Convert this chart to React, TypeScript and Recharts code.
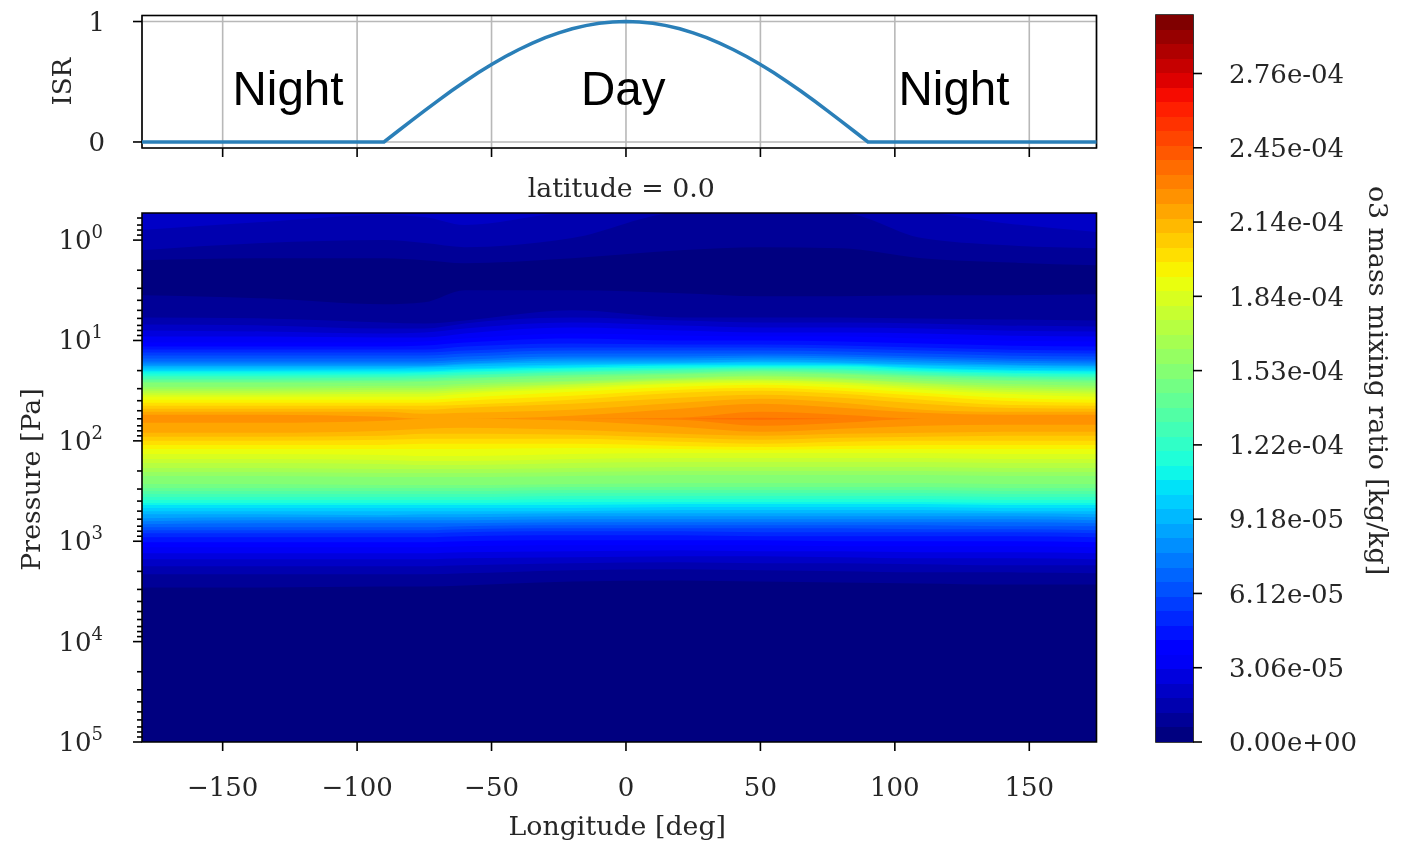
import React from 'react';
import {
  AreaChart,
  Area,
  BarChart,
  Bar,
  LineChart,
  Line,
  XAxis,
  YAxis,
  CartesianGrid,
  ReferenceArea,
  ReferenceDot,
} from 'recharts';

const serif = 'DejaVu Serif';
const ink = '#262626';

// top panel: incoming stellar radiation against longitude
const isrLongitudes = [
  -180, -90, -85, -80, -75, -70, -65, -60, -55, -50, -45, -40, -35, -30, -25, -20, -15, -10, -5, 0, 5, 10, 15, 20, 25,
  30, 35, 40, 45, 50, 55, 60, 65, 70, 75, 80, 85, 90, 175,
];
const isrValues = [
  0, 0, 0.087, 0.174, 0.259, 0.342, 0.423, 0.5, 0.574, 0.643, 0.707, 0.766, 0.819, 0.866, 0.906, 0.94, 0.966, 0.985,
  0.996, 1, 0.996, 0.985, 0.966, 0.94, 0.906, 0.866, 0.819, 0.766, 0.707, 0.643, 0.574, 0.5, 0.423, 0.342, 0.259,
  0.174, 0.087, 0, 0,
];
const longitudeTicks = [-150, -100, -50, 0, 50, 100, 150];
const isrTicks = [0, 1];
const dayNightLabels = ['Night', 'Day', 'Night'];
const dayNightLongitudes = [-125.7, -1, 122];

// bottom panel: log10(pressure) of each contour edge, read at these longitudes
const gridLongitudes = [-180, -135, -90, -75, -60, -20, 20, 50, 80, 110, 140, 175];
const pressureTop = -0.27;
const pressureBottom = 5;
const majorPressureTicks = [0, 1, 2, 3, 4, 5];
const minorTickOffsets = [0.3, 0.48, 0.6, 0.7, 0.78, 0.85, 0.9, 0.95];

// upper atmosphere: contours 1 to 3 hang from the top of the plot
const highEdges = [
  [0.2, 0.18, 0.18, 0.2, 0.23, 0.18, 0.1, 0.07, 0.08, 0.18, 0.22, 0.25],
  [0.1, 0.03, 0, 0.03, 0.07, -0.02, -0.27, -0.27, -0.27, -0.02, 0.05, 0.08],
  [-0.1, -0.18, -0.25, -0.23, -0.15, -0.27, -0.27, -0.27, -0.27, -0.27, -0.17, -0.08],
];

// ozone layer: upper edge of contours 1 to 39
const upperEdges = [
  [0.55, 0.58, 0.64, 0.62, 0.5, 0.5, 0.53, 0.56, 0.56, 0.55, 0.55, 0.54],
  [0.77, 0.78, 0.82, 0.83, 0.8, 0.7, 0.77, 0.77, 0.77, 0.78, 0.79, 0.8],
  [0.84, 0.85, 0.88, 0.88, 0.83, 0.77, 0.8, 0.82, 0.82, 0.83, 0.85, 0.86],
  [0.9, 0.91, 0.93, 0.92, 0.88, 0.82, 0.85, 0.87, 0.87, 0.88, 0.9, 0.91],
  [0.96, 0.96, 0.97, 0.97, 0.93, 0.87, 0.9, 0.92, 0.92, 0.93, 0.95, 0.96],
  [1.02, 1.02, 1.02, 1.01, 0.98, 0.93, 0.95, 0.96, 0.96, 0.98, 1.0, 1.01],
  [1.06, 1.06, 1.06, 1.05, 1.02, 0.98, 1.0, 1.0, 1.01, 1.03, 1.05, 1.06],
  [1.09, 1.09, 1.09, 1.09, 1.06, 1.03, 1.04, 1.04, 1.05, 1.07, 1.09, 1.1],
  [1.12, 1.12, 1.12, 1.12, 1.1, 1.07, 1.07, 1.07, 1.08, 1.1, 1.12, 1.13],
  [1.15, 1.15, 1.15, 1.15, 1.13, 1.1, 1.1, 1.1, 1.11, 1.13, 1.15, 1.16],
  [1.18, 1.18, 1.18, 1.18, 1.16, 1.13, 1.13, 1.13, 1.14, 1.16, 1.18, 1.19],
  [1.21, 1.21, 1.21, 1.21, 1.19, 1.16, 1.16, 1.15, 1.16, 1.18, 1.2, 1.21],
  [1.23, 1.23, 1.23, 1.23, 1.21, 1.18, 1.18, 1.17, 1.18, 1.2, 1.22, 1.23],
  [1.25, 1.25, 1.25, 1.25, 1.23, 1.2, 1.2, 1.19, 1.2, 1.22, 1.24, 1.25],
  [1.26, 1.26, 1.26, 1.26, 1.24, 1.22, 1.22, 1.21, 1.22, 1.24, 1.25, 1.26],
  [1.28, 1.28, 1.28, 1.27, 1.26, 1.24, 1.23, 1.22, 1.23, 1.25, 1.27, 1.28],
  [1.3, 1.3, 1.29, 1.29, 1.28, 1.25, 1.24, 1.24, 1.24, 1.27, 1.29, 1.3],
  [1.31, 1.31, 1.31, 1.31, 1.29, 1.27, 1.25, 1.25, 1.25, 1.28, 1.3, 1.31],
  [1.33, 1.33, 1.33, 1.32, 1.31, 1.28, 1.27, 1.26, 1.26, 1.3, 1.32, 1.33],
  [1.35, 1.35, 1.34, 1.34, 1.32, 1.3, 1.28, 1.27, 1.28, 1.31, 1.33, 1.34],
  [1.36, 1.36, 1.36, 1.35, 1.34, 1.31, 1.29, 1.28, 1.29, 1.32, 1.35, 1.36],
  [1.38, 1.38, 1.37, 1.37, 1.35, 1.32, 1.3, 1.29, 1.3, 1.34, 1.36, 1.37],
  [1.39, 1.39, 1.39, 1.38, 1.37, 1.34, 1.32, 1.3, 1.32, 1.35, 1.37, 1.39],
  [1.41, 1.41, 1.4, 1.4, 1.38, 1.35, 1.33, 1.31, 1.33, 1.36, 1.39, 1.4],
  [1.42, 1.42, 1.42, 1.41, 1.4, 1.37, 1.34, 1.33, 1.34, 1.38, 1.4, 1.42],
  [1.46, 1.46, 1.45, 1.45, 1.43, 1.4, 1.37, 1.35, 1.37, 1.4, 1.43, 1.45],
  [1.48, 1.48, 1.47, 1.47, 1.45, 1.41, 1.38, 1.36, 1.38, 1.42, 1.45, 1.47],
  [1.5, 1.5, 1.49, 1.49, 1.47, 1.43, 1.39, 1.38, 1.39, 1.43, 1.47, 1.49],
  [1.52, 1.52, 1.51, 1.51, 1.49, 1.44, 1.4, 1.39, 1.41, 1.45, 1.49, 1.51],
  [1.54, 1.54, 1.53, 1.53, 1.51, 1.46, 1.42, 1.4, 1.42, 1.47, 1.51, 1.53],
  [1.56, 1.56, 1.56, 1.56, 1.53, 1.48, 1.43, 1.42, 1.44, 1.49, 1.53, 1.56],
  [1.59, 1.59, 1.59, 1.59, 1.57, 1.51, 1.46, 1.44, 1.47, 1.52, 1.57, 1.59],
  [1.62, 1.62, 1.62, 1.62, 1.6, 1.55, 1.49, 1.47, 1.5, 1.55, 1.6, 1.62],
  [1.65, 1.65, 1.65, 1.65, 1.64, 1.59, 1.52, 1.5, 1.53, 1.59, 1.64, 1.65],
  [1.68, 1.68, 1.68, 1.69, 1.67, 1.63, 1.57, 1.54, 1.57, 1.63, 1.67, 1.68],
  [1.71, 1.71, 1.71, 1.73, 1.72, 1.69, 1.62, 1.58, 1.62, 1.69, 1.71, 1.71],
  [1.74, 1.74, 1.76, 1.78, 1.78, 1.75, 1.68, 1.63, 1.67, 1.72, 1.74, 1.74],
  [1.78, 1.78, 1.78, 1.78, 1.78, 1.78, 1.77, 1.71, 1.74, 1.78, 1.78, 1.78],
  [1.78, 1.78, 1.78, 1.78, 1.78, 1.78, 1.78, 1.77, 1.78, 1.78, 1.78, 1.78],
];

// ozone layer: lower edge of contours 1 to 39
const lowerEdges = [
  [3.46, 3.46, 3.45, 3.45, 3.44, 3.4, 3.39, 3.4, 3.41, 3.42, 3.43, 3.43],
  [3.33, 3.33, 3.33, 3.33, 3.32, 3.29, 3.28, 3.29, 3.3, 3.31, 3.31, 3.32],
  [3.25, 3.25, 3.25, 3.25, 3.24, 3.22, 3.21, 3.22, 3.22, 3.23, 3.24, 3.24],
  [3.18, 3.18, 3.18, 3.18, 3.17, 3.16, 3.15, 3.15, 3.16, 3.17, 3.17, 3.18],
  [3.12, 3.12, 3.12, 3.12, 3.11, 3.1, 3.09, 3.1, 3.1, 3.11, 3.11, 3.12],
  [3.06, 3.06, 3.06, 3.06, 3.05, 3.04, 3.04, 3.04, 3.05, 3.05, 3.05, 3.06],
  [3.01, 3.01, 3.01, 3.01, 3.0, 2.99, 2.99, 2.99, 3.0, 3.0, 3.0, 3.01],
  [2.96, 2.96, 2.96, 2.96, 2.95, 2.94, 2.94, 2.95, 2.95, 2.95, 2.95, 2.96],
  [2.92, 2.92, 2.92, 2.92, 2.91, 2.9, 2.9, 2.91, 2.91, 2.91, 2.91, 2.92],
  [2.89, 2.89, 2.89, 2.89, 2.88, 2.87, 2.87, 2.87, 2.87, 2.88, 2.88, 2.89],
  [2.86, 2.86, 2.86, 2.86, 2.85, 2.84, 2.84, 2.84, 2.84, 2.84, 2.85, 2.85],
  [2.83, 2.82, 2.82, 2.82, 2.82, 2.81, 2.81, 2.81, 2.81, 2.81, 2.81, 2.82],
  [2.8, 2.79, 2.79, 2.79, 2.79, 2.78, 2.78, 2.78, 2.78, 2.78, 2.78, 2.79],
  [2.77, 2.76, 2.76, 2.76, 2.76, 2.75, 2.75, 2.75, 2.75, 2.75, 2.75, 2.76],
  [2.73, 2.73, 2.74, 2.73, 2.73, 2.72, 2.72, 2.72, 2.72, 2.72, 2.72, 2.73],
  [2.7, 2.7, 2.7, 2.7, 2.7, 2.7, 2.69, 2.69, 2.69, 2.69, 2.7, 2.7],
  [2.67, 2.67, 2.67, 2.67, 2.67, 2.67, 2.66, 2.66, 2.66, 2.66, 2.67, 2.67],
  [2.64, 2.64, 2.64, 2.64, 2.64, 2.64, 2.63, 2.63, 2.63, 2.63, 2.64, 2.64],
  [2.62, 2.62, 2.62, 2.62, 2.62, 2.61, 2.61, 2.61, 2.61, 2.61, 2.62, 2.62],
  [2.59, 2.59, 2.59, 2.59, 2.59, 2.58, 2.58, 2.58, 2.58, 2.58, 2.59, 2.59],
  [2.56, 2.56, 2.56, 2.56, 2.56, 2.55, 2.55, 2.55, 2.55, 2.55, 2.56, 2.56],
  [2.53, 2.53, 2.53, 2.53, 2.53, 2.52, 2.52, 2.52, 2.52, 2.52, 2.53, 2.53],
  [2.5, 2.5, 2.5, 2.5, 2.5, 2.49, 2.49, 2.49, 2.49, 2.49, 2.5, 2.5],
  [2.47, 2.47, 2.47, 2.47, 2.47, 2.46, 2.46, 2.46, 2.46, 2.46, 2.47, 2.47],
  [2.43, 2.43, 2.44, 2.44, 2.44, 2.43, 2.42, 2.42, 2.42, 2.42, 2.43, 2.43],
  [2.35, 2.35, 2.36, 2.36, 2.36, 2.35, 2.34, 2.34, 2.34, 2.34, 2.35, 2.35],
  [2.31, 2.31, 2.32, 2.32, 2.32, 2.31, 2.3, 2.3, 2.3, 2.3, 2.31, 2.31],
  [2.27, 2.27, 2.28, 2.28, 2.28, 2.27, 2.26, 2.26, 2.26, 2.26, 2.27, 2.27],
  [2.22, 2.22, 2.23, 2.24, 2.24, 2.22, 2.21, 2.21, 2.21, 2.21, 2.22, 2.22],
  [2.18, 2.18, 2.19, 2.2, 2.2, 2.18, 2.17, 2.17, 2.17, 2.17, 2.18, 2.18],
  [2.13, 2.13, 2.14, 2.15, 2.15, 2.13, 2.12, 2.12, 2.12, 2.12, 2.13, 2.13],
  [2.08, 2.08, 2.08, 2.08, 2.08, 2.07, 2.08, 2.09, 2.08, 2.08, 2.08, 2.08],
  [2.04, 2.04, 2.04, 2.03, 2.03, 2.03, 2.05, 2.06, 2.05, 2.04, 2.04, 2.04],
  [2.0, 2.0, 1.99, 1.98, 1.98, 1.98, 2.01, 2.03, 2.01, 2.0, 2.0, 2.0],
  [1.96, 1.96, 1.95, 1.93, 1.93, 1.94, 1.97, 1.99, 1.97, 1.96, 1.95, 1.95],
  [1.92, 1.92, 1.9, 1.88, 1.87, 1.89, 1.93, 1.95, 1.93, 1.92, 1.91, 1.91],
  [1.82, 1.82, 1.8, 1.78, 1.78, 1.8, 1.86, 1.91, 1.88, 1.85, 1.84, 1.84],
  [1.78, 1.78, 1.78, 1.78, 1.78, 1.78, 1.79, 1.85, 1.82, 1.78, 1.78, 1.78],
  [1.78, 1.78, 1.78, 1.78, 1.78, 1.78, 1.78, 1.79, 1.78, 1.78, 1.78, 1.78],
];

// colour bar, in units of 1e-6 kg/kg
const contourLevels = [
  0, 5.99, 11.98, 17.97, 23.96, 29.95, 35.94, 41.93, 47.92, 53.91, 59.9, 65.89, 71.88, 77.87, 83.86, 89.85, 95.84,
  101.83, 107.82, 113.81, 119.8, 125.79, 131.78, 137.77, 143.76, 149.75, 155.74, 161.73, 167.72, 173.71, 179.7,
  185.69, 191.68, 197.67, 203.66, 209.65, 215.64, 221.63, 227.62, 233.61, 239.6, 245.59, 251.58, 257.57, 263.56,
  269.55, 275.54, 281.53, 287.52, 293.51, 299.5,
];
const colorbarTicks = [0, 30.6, 61.2, 91.8, 122.4, 153, 183.6, 214.2, 244.8, 275.4];
const colorbarLabels = [
  '0.00e+00', '3.06e-05', '6.12e-05', '9.18e-05', '1.22e-04', '1.53e-04', '1.84e-04', '2.14e-04', '2.45e-04', '2.76e-04',
];

// matplotlib's jet colormap
function ramp(stops: number[][], f: number) {
  for (let i = 1; i < stops.length; i++) {
    if (f <= stops[i][0]) {
      const [x0, y0] = stops[i - 1];
      const [x1, y1] = stops[i];
      return y0 + ((f - x0) / (x1 - x0)) * (y1 - y0);
    }
  }
  return stops[stops.length - 1][1];
}
const jetRed = [[0, 0], [0.35, 0], [0.66, 1], [0.89, 1], [1, 0.5]];
const jetGreen = [[0, 0], [0.125, 0], [0.375, 1], [0.64, 1], [0.91, 0], [1, 0]];
const jetBlue = [[0, 0.5], [0.11, 1], [0.34, 1], [0.65, 0], [1, 0]];
function bandColor(band: number) {
  const f = band / (contourLevels.length - 2);
  const c = [jetRed, jetGreen, jetBlue].map((s) => Math.round(ramp(s, f) * 255));
  return `rgb(${c[0]},${c[1]},${c[2]})`;
}

const isrData = isrLongitudes.map((lon, i) => ({ lon, isr: isrValues[i] }));

const ozoneData = gridLongitudes.map((lon, i) => {
  const row: Record<string, any> = { lon, base: [pressureTop, pressureBottom] };
  highEdges.forEach((edge, k) => {
    row[`high${k + 1}`] = [pressureTop, edge[i]];
  });
  upperEdges.forEach((edge, k) => {
    row[`layer${k + 1}`] = [edge[i], lowerEdges[k][i]];
  });
  return row;
});

const colorbarRow: Record<string, any> = { name: 'levels' };
contourLevels.slice(1).forEach((level, k) => {
  colorbarRow[`band${k}`] = level - contourLevels[k];
});
const colorbarData = [colorbarRow];

const pressureTicks = majorPressureTicks
  .flatMap((d) => [d, ...minorTickOffsets.map((m) => d - 1 + m)])
  .filter((t) => t >= pressureTop && t <= pressureBottom);

const axisText = { fontFamily: serif, fontSize: 26, fill: ink };
const labelText = { fontFamily: serif, fontSize: 26.8, fill: ink };
const tickStroke = { stroke: '#000', strokeWidth: 1.6 };

function PressureTick({ x, y, payload }: any) {
  const major = Number.isInteger(payload.value);
  return (
    <g>
      <line x1={x - (major ? 9 : 5)} x2={x} y1={y} y2={y} {...tickStroke} />
      {major && (
        <text x={x - 39} y={y + 9} textAnchor="end" {...axisText}>
          10
          <tspan dx={0} dy={-11} fontSize={18}>
            {payload.value}
          </tspan>
        </text>
      )}
    </g>
  );
}

function formatLongitude(v: number) {
  return v < 0 ? `\u2212${Math.abs(v)}` : `${v}`;
}

export default function App() {
  return (
    <div style={{ position: 'absolute', left: 0, top: 0, width: 1401, height: 844, background: '#fff', filter: 'blur(0.5px)' }}>
      <div style={{ position: 'absolute', left: 0, top: 0 }}>
        <LineChart width={1150} height={200} data={isrData} margin={{ top: 15.5, right: 53.5, bottom: 0, left: 42 }}>
          <CartesianGrid stroke="#b8b8b8" strokeWidth={1.6} />
          <XAxis
            dataKey="lon"
            type="number"
            domain={[-180, 175]}
            ticks={longitudeTicks}
            height={52}
            tick={axisText}
            tickFormatter={() => ''}
            tickSize={9}
            axisLine={false}
            tickLine={tickStroke}
          />
          <YAxis
            type="number"
            domain={[-0.05, 1.05]}
            ticks={isrTicks}
            width={100}
            tick={axisText}
            tickSize={9}
            tickMargin={28}
            axisLine={false}
            tickLine={tickStroke}
            label={{ value: 'ISR', angle: -90, position: 'insideLeft', offset: 20, ...axisText, textAnchor: 'middle' }}
          />
          <Line dataKey="isr" type="linear" stroke="#2a7fb8" strokeWidth={3.5} dot={false} isAnimationActive={false} />
          {dayNightLabels.map((text, i) => (
            <ReferenceDot
              key={i}
              x={dayNightLongitudes[i]}
              y={0.445}
              r={0}
              stroke="none"
              label={{ value: text, position: 'center', fontFamily: 'Liberation Sans', fontSize: 47.5, fill: '#000' }}
            />
          ))}
          <ReferenceArea x1={-180} x2={175} y1={-0.05} y2={1.05} fill="none" stroke="#000" strokeWidth={1.6} />
        </LineChart>
      </div>

      <div style={{ position: 'absolute', left: 0, top: 160 }}>
        <AreaChart width={1150} height={684} data={ozoneData} margin={{ top: 53, right: 53.5, bottom: 0, left: 42 }}>
          <Area dataKey="base" type="monotone" fill={bandColor(0)} fillOpacity={1} stroke="none" isAnimationActive={false} dot={false} activeDot={false} />
          {highEdges.map((_, k) => (
            <Area key={k} dataKey={`high${k + 1}`} type="monotone" fill={bandColor(k + 1)} fillOpacity={1} stroke="none" isAnimationActive={false} dot={false} activeDot={false} />
          ))}
          {upperEdges.map((_, k) => (
            <Area key={k} dataKey={`layer${k + 1}`} type="monotone" fill={bandColor(k + 1)} fillOpacity={1} stroke="none" isAnimationActive={false} dot={false} activeDot={false} />
          ))}
          <XAxis
            dataKey="lon"
            type="number"
            domain={[-180, 175]}
            ticks={longitudeTicks}
            height={102}
            tick={axisText}
            tickFormatter={formatLongitude}
            tickSize={9}
            tickMargin={27}
            axisLine={false}
            tickLine={tickStroke}
            allowDataOverflow
            label={{ value: 'Longitude [deg]', position: 'insideBottom', offset: 9, dx: -2, ...labelText }}
          />
          <YAxis
            type="number"
            reversed
            domain={[pressureTop, pressureBottom]}
            ticks={pressureTicks}
            interval={0}
            width={100}
            tick={<PressureTick />}
            tickSize={0}
            tickMargin={0}
            axisLine={false}
            tickLine={false}
            allowDataOverflow
            label={{ value: 'Pressure [Pa]', angle: -90, position: 'insideLeft', offset: -12, dy: 2, ...labelText, textAnchor: 'middle' }}
          />
          <ReferenceArea
            x1={-180}
            x2={175}
            y1={pressureTop}
            y2={pressureBottom}
            fill="none"
            stroke="#000"
            strokeWidth={1.6}
            label={{ value: 'latitude = 0.0', position: 'top', offset: 16, dx: 2, ...labelText }}
          />
        </AreaChart>
      </div>

      <div style={{ position: 'absolute', left: 1100, top: 0 }}>
        <BarChart
          width={301}
          height={844}
          data={colorbarData}
          margin={{ top: 15, right: 0, bottom: 102, left: 56 }}
          barCategoryGap={0}
          barGap={0}
        >
          <XAxis dataKey="name" hide />
          <YAxis
            orientation="right"
            type="number"
            domain={[0, contourLevels[contourLevels.length - 1]]}
            ticks={colorbarTicks}
            interval={0}
            width={208}
            tick={axisText}
            tickFormatter={(_: number, i: number) => colorbarLabels[i]}
            tickSize={9}
            tickMargin={27}
            axisLine={false}
            tickLine={tickStroke}
            label={{ value: 'o3 mass mixing ratio [kg/kg]', angle: 90, position: 'insideRight', offset: 23, dy: 2, ...labelText, textAnchor: 'middle' }}
          />
          {contourLevels.slice(1).map((_, k) => (
            <Bar key={k} dataKey={`band${k}`} stackId="cb" fill={bandColor(k)} shapeRendering="crispEdges" isAnimationActive={false} />
          ))}
          <ReferenceArea
            y1={0}
            y2={contourLevels[contourLevels.length - 1]}
            fill="none"
            stroke="#000"
            strokeWidth={1.6}
          />
        </BarChart>
      </div>
    </div>
  );
}
